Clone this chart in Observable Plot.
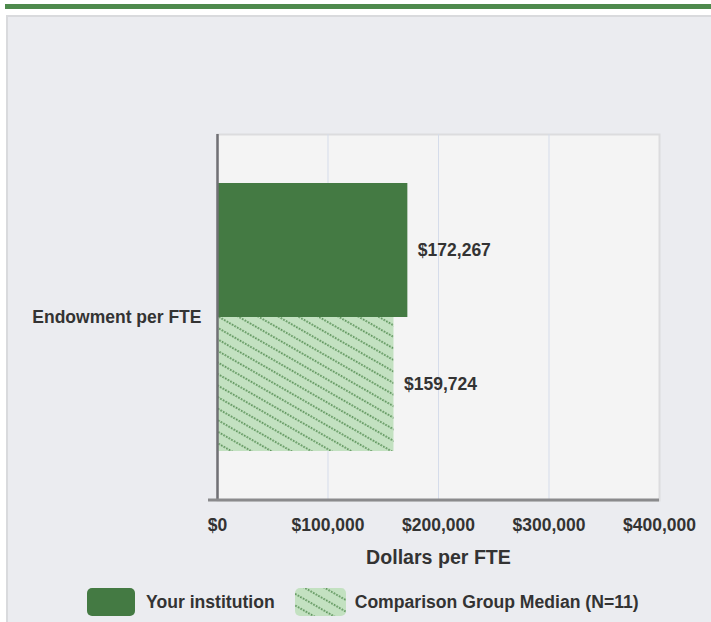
<!DOCTYPE html>
<html><head><meta charset="utf-8">
<script src="https://cdn.jsdelivr.net/npm/d3@7"></script>
<script src="https://cdn.jsdelivr.net/npm/@observablehq/plot@0.6"></script>
<style>
body{margin:0;background:#fff;font-family:"Liberation Sans",Arial,Helvetica,sans-serif;}
#wrap{position:relative;width:711px;height:622px;overflow:hidden;}
#topbar{position:absolute;left:5px;top:4px;width:706px;height:5px;background:#4e8a4d;}
#panel{position:absolute;left:6px;top:15px;width:720px;height:620px;background:#ebecf0;border:2px solid #d9dadd;box-sizing:border-box;}
#chart{position:absolute;left:0;top:0;}
#legend{position:absolute;top:588px;left:87px;display:flex;align-items:center;font-weight:bold;font-size:17.6px;color:#333;white-space:nowrap;}
.sw{width:48px;height:28px;border-radius:5px;}
</style>
</head><body>
<svg width="0" height="0" style="position:absolute">
<defs>
<pattern id="hatch" patternUnits="userSpaceOnUse" width="6" height="10" patternTransform="rotate(30)">
<rect width="6" height="10" fill="#c3e1c1"/>
<line x1="0" y1="5" x2="6" y2="5" stroke="#3f7d3e" stroke-width="1.6" stroke-dasharray="1.6 1.4"/>
</pattern>
</defs></svg>
<div id="wrap">
<div id="topbar"></div>
<div id="panel"></div>
<div id="chart"></div>
<div id="legend"></div>
</div>
<script>
const category = "Endowment per FTE";
const seriesNames = ["Your institution", "Comparison Group Median (N=11)"];
const seriesValues = [172267, 159724];
const xTicks = [0, 100000, 200000, 300000, 400000];
const xTitle = "Dollars per FTE";
const barColor = "#447a43";

const data = seriesNames.map((s, i) => ({series: s, value: seriesValues[i], category}));
const money = d => "$" + d3.format(",")(d);

const bottomLine = (index, scales, values, dims) => {
  const ns = "http://www.w3.org/2000/svg";
  const l = document.createElementNS(ns, "line");
  const y = dims.height - dims.marginBottom;
  l.setAttribute("x1", dims.marginLeft - 9);
  l.setAttribute("x2", dims.width - dims.marginRight);
  l.setAttribute("y1", y);
  l.setAttribute("y2", y);
  l.setAttribute("stroke", "#8a8a8c");
  l.setAttribute("stroke-width", 3);
  return l;
};

const plot = Plot.plot({
  width: 711, height: 580,
  marginLeft: 217, marginRight: 52, marginTop: 134, marginBottom: 80,
  style: {background: "transparent", fontFamily: "Liberation Sans, Arial, sans-serif", fontSize: "17.5px", fontWeight: "bold", color: "#333"},
  x: {domain: [0, 400000], ticks: xTicks, tickFormat: money, tickSize: 0, tickPadding: 18, label: null},
  y: {domain: seriesNames, axis: null, paddingInner: 0, paddingOuter: 0.36},
  marks: [
    Plot.frame({fill: "#f4f4f4", stroke: "#dcdcde", strokeWidth: 2}),
    Plot.ruleX(xTicks.slice(1, -1), {stroke: "#d5dcea", strokeWidth: 1}),
    Plot.barX(data.filter(d => d.series === seriesNames[0]), {x: "value", y: "series", fill: barColor}),
    Plot.barX(data.filter(d => d.series === seriesNames[1]), {x: "value", y: "series", fill: "url(#hatch)"}),
    Plot.ruleX([0], {stroke: "#707075", strokeWidth: 2.5}),
    bottomLine,
    Plot.text(data, {x: "value", y: "series", text: d => money(d.value), textAnchor: "start", dx: 10, fill: "#333", fontSize: 17.5, fontWeight: "bold"}),
    Plot.text([category], {frameAnchor: "left", text: d => d, textAnchor: "end", dx: -16, fill: "#333", fontSize: 17.5, fontWeight: "bold"}),
    Plot.text([xTitle], {frameAnchor: "bottom", text: d => d, dy: 63, fill: "#333", fontSize: 19.6, fontWeight: "bold"})
  ]
});
document.getElementById("chart").append(plot);

const leg = document.getElementById("legend");
leg.innerHTML =
  `<div class="sw" style="background:${barColor}"></div>` +
  `<span style="margin-left:11px">${seriesNames[0]}</span>` +
  `<svg width="51" height="28" style="margin-left:20px"><rect width="51" height="28" rx="5" fill="url(#hatch)"/></svg>` +
  `<span style="margin-left:9px">${seriesNames[1]}</span>`;
</script>
</body></html>
